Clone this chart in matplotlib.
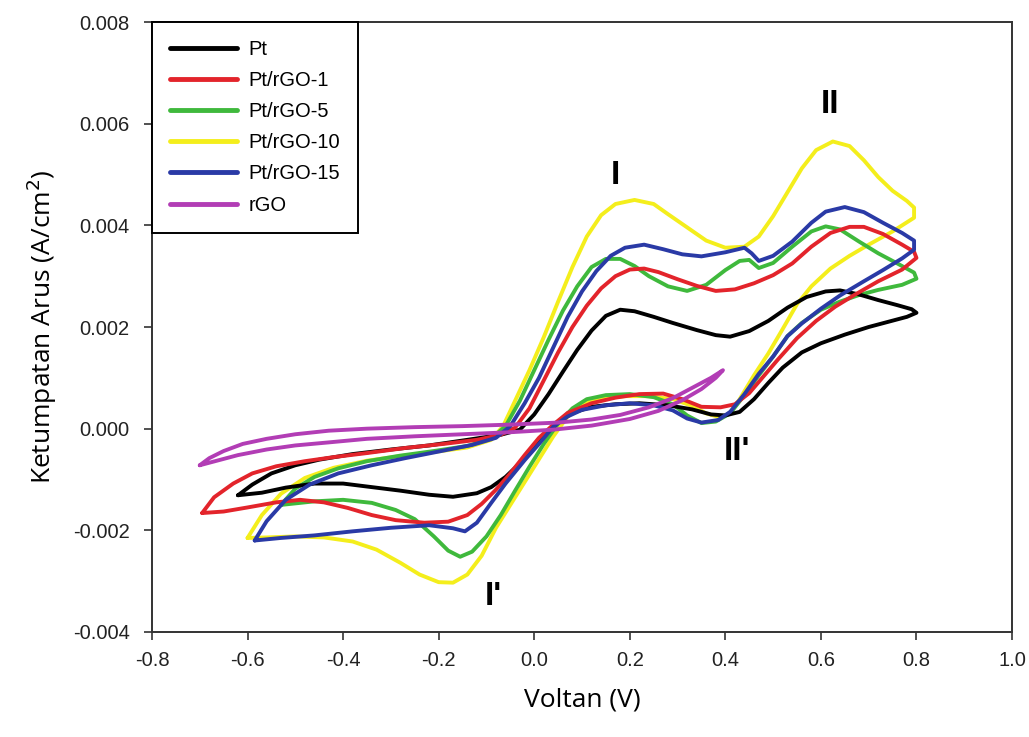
#!/usr/bin/env python3
"""Cyclic voltammograms of Pt, Pt/rGO and rGO electrodes."""

import matplotlib
matplotlib.use("Agg")
import matplotlib.pyplot as plt
from matplotlib.ticker import FormatStrFormatter, MultipleLocator

# each loop: forward scan from the negative vertex, then the reverse scan back
pt_v = [-0.62, -0.59, -0.55, -0.50, -0.45, -0.38, -0.30, -0.22, -0.14, -0.07, -0.03, 0.00, 0.03, 0.06,
        0.09, 0.12, 0.15, 0.18, 0.21, 0.25, 0.29, 0.34, 0.38, 0.41, 0.45, 0.49, 0.53, 0.57, 0.61, 0.64,
        0.68, 0.72, 0.76, 0.79, 0.80,
        0.78, 0.74, 0.70, 0.65, 0.60, 0.56, 0.52, 0.49, 0.46, 0.43, 0.40, 0.37, 0.33, 0.28, 0.22, 0.17,
        0.12, 0.08, 0.05, 0.03, 0.00, -0.03, -0.06, -0.09, -0.12, -0.17, -0.22, -0.28, -0.34, -0.40,
        -0.46, -0.52, -0.57, -0.62]
pt_i = [-0.00131, -0.00110, -0.00088, -0.00072, -0.00061, -0.00050, -0.00041, -0.00033, -0.00022,
        -0.00012, -0.00002, 0.00028, 0.00068, 0.00112, 0.00155, 0.00193, 0.00222, 0.00234, 0.00231,
        0.00220, 0.00208, 0.00194, 0.00184, 0.00181, 0.00192, 0.00212, 0.00238, 0.00259, 0.00270,
        0.00272, 0.00264, 0.00253, 0.00243, 0.00235, 0.00228,
        0.00220, 0.00210, 0.00200, 0.00185, 0.00168, 0.00150, 0.00120, 0.00090, 0.00058, 0.00033,
        0.00026, 0.00028, 0.00038, 0.00046, 0.00050, 0.00048, 0.00043, 0.00031, 0.00012, -0.00005,
        -0.00038, -0.00068, -0.00095, -0.00115, -0.00127, -0.00134, -0.00130, -0.00122, -0.00115,
        -0.00108, -0.00108, -0.00116, -0.00126, -0.00131]

rgo1_v = [-0.695, -0.67, -0.63, -0.59, -0.54, -0.48, -0.42, -0.35, -0.27, -0.19, -0.12, -0.07, -0.04,
          -0.01, 0.02, 0.05, 0.08, 0.11, 0.14, 0.17, 0.20, 0.23, 0.26, 0.30, 0.34, 0.38, 0.42, 0.46,
          0.50, 0.54, 0.58, 0.62, 0.66, 0.69, 0.73, 0.77, 0.795, 0.80,
          0.77, 0.72, 0.67, 0.63, 0.59, 0.55, 0.51, 0.48, 0.45, 0.42, 0.39, 0.35, 0.31, 0.27, 0.22,
          0.17, 0.12, 0.07, 0.04, 0.01, -0.02, -0.05, -0.08, -0.11, -0.14, -0.18, -0.23, -0.29, -0.34,
          -0.39, -0.44, -0.49, -0.54, -0.60, -0.65, -0.695]
rgo1_i = [-0.00166, -0.00135, -0.00108, -0.00088, -0.00074, -0.00064, -0.00056, -0.00048, -0.00038,
          -0.00030, -0.00022, -0.00012, 0.00002, 0.00040, 0.00095, 0.00150, 0.00200, 0.00242, 0.00276,
          0.00300, 0.00313, 0.00315, 0.00308, 0.00294, 0.00281, 0.00271, 0.00274, 0.00286, 0.00302,
          0.00325, 0.00358, 0.00385, 0.00397, 0.00397, 0.00383, 0.00362, 0.00348, 0.00336,
          0.00313, 0.00290, 0.00263, 0.00240, 0.00212, 0.00178, 0.00136, 0.00103, 0.00070, 0.00048,
          0.00042, 0.00043, 0.00058, 0.00069, 0.00068, 0.00061, 0.00050, 0.00031, 0.00008, -0.00018,
          -0.00052, -0.00088, -0.00120, -0.00148, -0.00170, -0.00183, -0.00185, -0.00180, -0.00170,
          -0.00156, -0.00145, -0.00140, -0.00145, -0.00155, -0.00163, -0.00166]

rgo5_v = [-0.53, -0.50, -0.46, -0.41, -0.35, -0.28, -0.21, -0.14, -0.09, -0.06, -0.03, 0.00, 0.03, 0.06,
          0.09, 0.12, 0.15, 0.18, 0.21, 0.24, 0.28, 0.32, 0.36, 0.40, 0.43, 0.45, 0.47, 0.50, 0.54,
          0.58, 0.61, 0.64, 0.68, 0.72, 0.76, 0.795, 0.80,
          0.77, 0.72, 0.68, 0.64, 0.60, 0.56, 0.53, 0.50, 0.47, 0.44, 0.41, 0.38, 0.35, 0.32, 0.29,
          0.25, 0.20, 0.15, 0.11, 0.08, 0.05, 0.02, -0.01, -0.04, -0.07, -0.10, -0.13, -0.155, -0.18,
          -0.21, -0.25, -0.29, -0.34, -0.40, -0.46, -0.53]
rgo5_i = [-0.00150, -0.00118, -0.00095, -0.00078, -0.00064, -0.00053, -0.00044, -0.00034, -0.00020,
          0.00005, 0.00055, 0.00115, 0.00175, 0.00232, 0.00280, 0.00318, 0.00334, 0.00334, 0.00320,
          0.00300, 0.00280, 0.00271, 0.00283, 0.00312, 0.00330, 0.00332, 0.00316, 0.00326, 0.00358,
          0.00388, 0.00398, 0.00392, 0.00368, 0.00345, 0.00325, 0.00307, 0.00295,
          0.00283, 0.00273, 0.00263, 0.00250, 0.00234, 0.00208, 0.00182, 0.00142, 0.00105, 0.00066,
          0.00030, 0.00014, 0.00011, 0.00026, 0.00048, 0.00062, 0.00068, 0.00066, 0.00058, 0.00040,
          0.00010, -0.00030, -0.00075, -0.00122, -0.00170, -0.00212, -0.00242, -0.00252, -0.00240,
          -0.00212, -0.00178, -0.00160, -0.00146, -0.00140, -0.00143, -0.00150]

rgo10_v = [-0.60, -0.57, -0.53, -0.48, -0.42, -0.35, -0.28, -0.21, -0.14, -0.09, -0.065, -0.04, -0.01,
           0.02, 0.05, 0.08, 0.11, 0.14, 0.17, 0.21, 0.25, 0.28, 0.32, 0.36, 0.40, 0.44, 0.47, 0.50,
           0.53, 0.56, 0.59, 0.625, 0.66, 0.69, 0.72, 0.75, 0.78, 0.795, 0.795,
           0.75, 0.70, 0.66, 0.62, 0.58, 0.55, 0.52, 0.49, 0.46, 0.43, 0.41, 0.39, 0.36, 0.33, 0.29,
           0.24, 0.19, 0.14, 0.10, 0.07, 0.04, 0.00, -0.04, -0.08, -0.11, -0.14, -0.17, -0.20, -0.24,
           -0.28, -0.33, -0.38, -0.44, -0.50, -0.56, -0.60]
rgo10_i = [-0.00215, -0.00170, -0.00128, -0.00097, -0.00077, -0.00063, -0.00054, -0.00046, -0.00037,
           -0.00022, 0.00005, 0.00055, 0.00115, 0.00180, 0.00250, 0.00318, 0.00378, 0.00420, 0.00442,
           0.00450, 0.00442, 0.00422, 0.00396, 0.00370, 0.00356, 0.00358, 0.00378, 0.00418, 0.00465,
           0.00512, 0.00548, 0.00565, 0.00556, 0.00528, 0.00495, 0.00468, 0.00448, 0.00435, 0.00415,
           0.00388, 0.00362, 0.00340, 0.00315, 0.00280, 0.00245, 0.00196, 0.00148, 0.00105, 0.00058,
           0.00030, 0.00022, 0.00030, 0.00045, 0.00058, 0.00064, 0.00064, 0.00060, 0.00048, 0.00024,
           -0.00015, -0.00075, -0.00135, -0.00195, -0.00250, -0.00287, -0.00303, -0.00302, -0.00287,
           -0.00264, -0.00238, -0.00222, -0.00214, -0.00212, -0.00214, -0.00215]

rgo15_v = [-0.585, -0.56, -0.52, -0.47, -0.41, -0.34, -0.27, -0.20, -0.13, -0.08, -0.05, -0.02, 0.01,
           0.04, 0.07, 0.10, 0.13, 0.16, 0.19, 0.23, 0.27, 0.31, 0.35, 0.40, 0.44, 0.455, 0.47, 0.50,
           0.54, 0.58, 0.61, 0.65, 0.69, 0.73, 0.77, 0.795, 0.795,
           0.77, 0.73, 0.69, 0.64, 0.60, 0.56, 0.53, 0.50, 0.47, 0.44, 0.41, 0.385, 0.35, 0.32, 0.29,
           0.25, 0.20, 0.15, 0.10, 0.07, 0.04, 0.01, -0.02, -0.06, -0.09, -0.12, -0.145, -0.17, -0.22,
           -0.30, -0.38, -0.46, -0.53, -0.585]
rgo15_i = [-0.00220, -0.00182, -0.00140, -0.00110, -0.00088, -0.00072, -0.00058, -0.00045, -0.00032,
           -0.00018, 0.00005, 0.00050, 0.00100, 0.00160, 0.00220, 0.00270, 0.00310, 0.00340, 0.00356,
           0.00362, 0.00353, 0.00343, 0.00339, 0.00347, 0.00356, 0.00345, 0.00330, 0.00340, 0.00368,
           0.00405, 0.00427, 0.00436, 0.00426, 0.00405, 0.00385, 0.00370, 0.00352,
           0.00335, 0.00312, 0.00290, 0.00262, 0.00236, 0.00207, 0.00182, 0.00142, 0.00108, 0.00068,
           0.00033, 0.00017, 0.00012, 0.00020, 0.00036, 0.00046, 0.00050, 0.00046, 0.00037, 0.00024,
           0.00004, -0.00030, -0.00062, -0.00108, -0.00146, -0.00185, -0.00202, -0.00196, -0.00190,
           -0.00195, -0.00202, -0.00210, -0.00215, -0.00220]

rgo_v = [-0.70, -0.68, -0.65, -0.61, -0.56, -0.50, -0.43, -0.35, -0.25, -0.15, -0.05, 0.05, 0.12, 0.18,
         0.24, 0.29, 0.33, 0.37, 0.395,
         0.38, 0.35, 0.31, 0.26, 0.20, 0.12, 0.04, -0.05, -0.15, -0.25, -0.35, -0.43, -0.50, -0.56,
         -0.62, -0.66, -0.70]
rgo_i = [-0.00072, -0.00058, -0.00044, -0.00030, -0.00020, -0.00011, -0.00004, 0.00000, 0.00003,
         0.00005, 0.00008, 0.00012, 0.00018, 0.00027, 0.00042, 0.00060, 0.00080, 0.00100, 0.00115,
         0.00100, 0.00078, 0.00056, 0.00035, 0.00019, 0.00006, -0.00002, -0.00007, -0.00011, -0.00015,
         -0.00020, -0.00027, -0.00033, -0.00041, -0.00052, -0.00062, -0.00072]

labels = ["Pt", "Pt/rGO-1", "Pt/rGO-5", "Pt/rGO-10", "Pt/rGO-15", "rGO"]
colors = ["#000000", "#e3242b", "#3fb93c", "#f4ee1c", "#2a3aa6", "#b23db5"]

# peak labels: text, voltage, current
peak_names = ["I", "II", "I'", "II'"]
peak_v = [0.170, 0.620, -0.086, 0.425]
peak_i = [0.00498, 0.00638, -0.00330, -0.00045]


def main():
    plt.rcParams['font.family'] = ['Liberation Sans', 'DejaVu Sans']
    plt.rcParams['axes.unicode_minus'] = False

    fig = plt.figure(figsize=(10.29, 7.37), dpi=100)
    ax = fig.add_axes([0.1477, 0.1425, 0.8358, 0.8276])

    curves = [(pt_v, pt_i), (rgo1_v, rgo1_i), (rgo5_v, rgo5_i),
              (rgo10_v, rgo10_i), (rgo15_v, rgo15_i), (rgo_v, rgo_i)]
    zorders = [3, 3, 2, 1, 4, 5]
    handles = []
    for (v, i), lab, col, z in zip(curves, labels, colors, zorders):
        h, = ax.plot(v, i, color=col, lw=2.8, label=lab, zorder=z,
                     solid_joinstyle='round', solid_capstyle='round')
        handles.append(h)

    for name, v, i in zip(peak_names, peak_v, peak_i):
        ax.text(v, i, name, fontsize=24, fontweight='bold', ha='center', va='center')

    ax.set_xlim(-0.8, 1.0)
    ax.set_ylim(-0.004, 0.008)
    ax.xaxis.set_major_locator(MultipleLocator(0.2))
    ax.yaxis.set_major_locator(MultipleLocator(0.002))
    ax.xaxis.set_major_formatter(FormatStrFormatter('%.1f'))
    ax.yaxis.set_major_formatter(FormatStrFormatter('%.3f'))
    ax.tick_params(axis='both', direction='out', length=6, width=1.2, labelsize=14.5,
                   color='#333333', labelcolor='#222222')
    ax.tick_params(axis='y', pad=10)
    ax.tick_params(axis='x', pad=8)
    for sp in ax.spines.values():
        sp.set_linewidth(1.4)
        sp.set_color('#333333')

    ax.set_xlabel("Voltan (V)", fontsize=19, family='Open Sans', labelpad=12)
    ax.set_ylabel("Ketumpatan Arus (A/cm$^2$)", fontsize=19, family='Open Sans', labelpad=10)

    leg = ax.legend(handles=handles, loc='upper left', bbox_to_anchor=(0, 1), borderaxespad=0,
                    fontsize=14.5, handlelength=3.3, handletextpad=0.6, labelspacing=0.6,
                    borderpad=0.9, fancybox=False, framealpha=1, edgecolor='black')
    leg.get_frame().set_linewidth(1.4)
    for line in leg.get_lines():
        line.set_linewidth(3.5)

    fig.savefig("out.png", dpi=100)


if __name__ == "__main__":
    main()
